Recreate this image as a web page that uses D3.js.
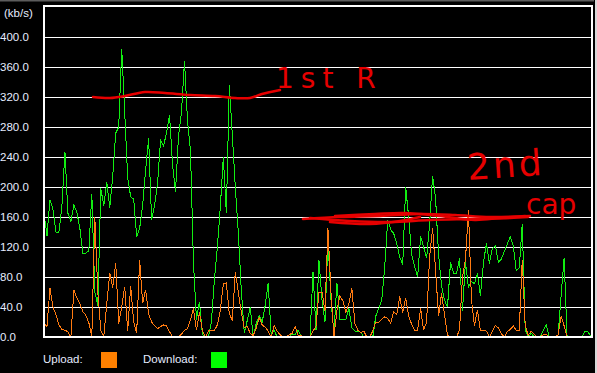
<!DOCTYPE html>
<html><head><meta charset="utf-8">
<script src="https://cdn.jsdelivr.net/npm/d3@7"></script>
<style>body{margin:0;background:#000;overflow:hidden} svg{display:block}</style>
</head><body><svg id="c" width="597" height="373"></svg>
<script>
// ---- data ----
const unitLabel = "(kb/s)";
const yTicks = [0, 40, 80, 120, 160, 200, 240, 280, 320, 360, 400];
const tickLabels = yTicks.map(v => v.toFixed(1));
const legendLabels = ["Upload:", "Download:"];
const seriesColors = ["#ff8000", "#00ff00"];

const download = [
  165,135,183,170,140,140,175,247,165,154,
  176,166,145,112,112,115,191,60,42,198,
  175,207,172,215,272,280,384,300,212,187,
  184,134,145,175,223,265,156,176,205,263,
  255,272,296,230,194,268,300,368,289,249,
  100,23,47,3,0,0,20,76,120,174,
  240,165,336,270,200,140,63,5,22,40,
  0,18,28,20,42,72,3,9,0,0,
  0,0,0,4,3,9,2,0,0,0,
  87,9,102,50,20,129,50,5,72,24,
  24,24,38,12,8,8,6,0,0,0,
  0,28,38,50,94,156,143,138,125,107,
  96,200,160,110,94,80,134,120,105,150,
  215,185,110,68,49,40,100,85,85,105,
  35,100,66,74,71,85,55,98,125,98,
  118,122,100,104,114,124,134,122,88,92,
  151,9,0,5,0,0,0,9,16,0,
  0,0,3,55,105,0,0,0,0,0,
  0,8,7,0
];
const upload = [
  18,14,65,40,30,16,10,9,7,0,
  63,52,44,34,29,19,0,160,60,9,
  0,45,85,66,98,18,40,67,8,68,
  20,5,103,45,63,31,20,15,11,14,
  16,15,7,0,0,0,4,9,11,23,
  38,9,33,8,0,8,9,9,16,36,
  71,72,31,22,87,60,33,12,14,5,
  2,12,26,16,13,8,0,15,8,3,
  0,0,3,5,14,2,2,0,0,0,
  8,14,60,60,35,145,60,0,35,55,
  48,33,45,65,18,9,6,8,0,0,
  8,20,20,24,27,25,18,34,30,54,
  32,52,28,17,9,9,38,9,20,107,
  145,89,28,58,30,2,0,0,0,9,
  80,103,169,50,15,36,9,9,8,0,
  8,15,12,4,0,7,10,15,9,9,
  103,15,2,8,4,0,0,3,4,0,
  0,0,3,28,15,0,0,0,0,0,
  0,0,0,0
];

// ---- drawing ----
const svg = d3.select("#c");
svg.append("rect").attr("width", 597).attr("height", 373).attr("fill", "#000");
svg.append("rect").attr("x", 0).attr("y", 0).attr("width", 594).attr("height", 1.5).attr("fill", "#5c5c5c");
svg.append("rect").attr("x", 595).attr("y", 0).attr("width", 2).attr("height", 373).attr("fill", "#d8d8d8");

const x = d3.scaleLinear().domain([0, download.length - 1]).range([44, 591]);
const y = d3.scaleLinear().domain([0, 400]).range([337, 37]);

// gridlines
svg.append("g").selectAll("line").data(yTicks.filter(v => v > 0)).join("line")
  .attr("x1", 45).attr("x2", 591)
  .attr("y1", d => Math.round(y(d)) + 0.5).attr("y2", d => Math.round(y(d)) + 0.5)
  .attr("stroke", "#fff").attr("stroke-width", 1).attr("shape-rendering", "crispEdges");

// tick labels
svg.append("g").selectAll("text").data(yTicks).join("text")
  .attr("x", 0).attr("y", d => y(d) + 4)
  .attr("fill", "#e6ecff").attr("font-family", "Liberation Sans, Arial, sans-serif")
  .attr("font-size", 11.5).text((d, i) => tickLabels[i]);

svg.append("text").attr("x", 4).attr("y", 17).attr("fill", "#e6ecff")
  .attr("font-family", "Liberation Sans, Arial, sans-serif").attr("font-size", 11.5).text(unitLabel);

// series lines
const line = d3.line().x((d, i) => x(i)).y(d => y(d));
svg.append("path").datum(download).attr("d", line).attr("fill", "none")
  .attr("stroke", "#11ee11").attr("stroke-width", 1).attr("shape-rendering", "crispEdges");
svg.append("path").datum(upload).attr("d", line).attr("fill", "none")
  .attr("stroke", "#ff7a10").attr("stroke-width", 1).attr("shape-rendering", "crispEdges");

// frame
svg.append("rect").attr("x", 44).attr("y", 6).attr("width", 548).attr("height", 331)
  .attr("fill", "none").attr("stroke", "#fff").attr("stroke-width", 2);

// legend
const legendX = [43, 143], swatchX = [101, 211];
legendLabels.forEach((lab, i) => {
  svg.append("text").attr("x", legendX[i]).attr("y", 363).attr("fill", "#e6ecff")
    .attr("font-family", "Liberation Sans, Arial, sans-serif").attr("font-size", 11.5).text(lab);
  svg.append("rect").attr("x", swatchX[i]).attr("y", 352).attr("width", 16).attr("height", 16)
    .attr("fill", seriesColors[i]);
});

// red hand-drawn annotations
const red = "#e60000";
const curve = d3.line().curve(d3.curveCatmullRom);
const strokes = [
  [[93,97],[110,98],[125,96],[145,92],[165,93],[190,95],[215,96],[235,98],[250,98],[262,94],[280,90]],
  [[303,219],[340,217],[380,216],[420,214],[455,215],[490,217],[530,216]],
  [[310,218],[350,221],[390,222],[430,220],[470,219],[510,218],[528,217]],
  [[335,216],[375,214],[405,213],[440,216],[475,220],[500,218],[525,216]],
  [[330,222],[370,224],[400,221],[420,217]]
];
strokes.forEach(s => svg.append("path").attr("d", curve(s)).attr("fill", "none")
  .attr("stroke", red).attr("stroke-width", 2.5).attr("stroke-linecap", "round"));

svg.append("text").attr("x", 276).attr("y", 88).attr("fill", red)
  .attr("font-family", "DejaVu Sans, sans-serif").attr("font-size", 28).attr("font-weight", "normal")
  .attr("letter-spacing", 7).text("1st R");
svg.append("text").attr("x", 468).attr("y", 180).attr("fill", red)
  .attr("font-family", "DejaVu Sans, sans-serif").attr("font-size", 36).attr("letter-spacing", 3)
  .attr("transform", "rotate(-4,468,180)").text("2nd");
svg.append("text").attr("x", 526).attr("y", 214).attr("fill", red)
  .attr("font-family", "DejaVu Sans, sans-serif").attr("font-size", 28).text("cap");
</script></body></html>
